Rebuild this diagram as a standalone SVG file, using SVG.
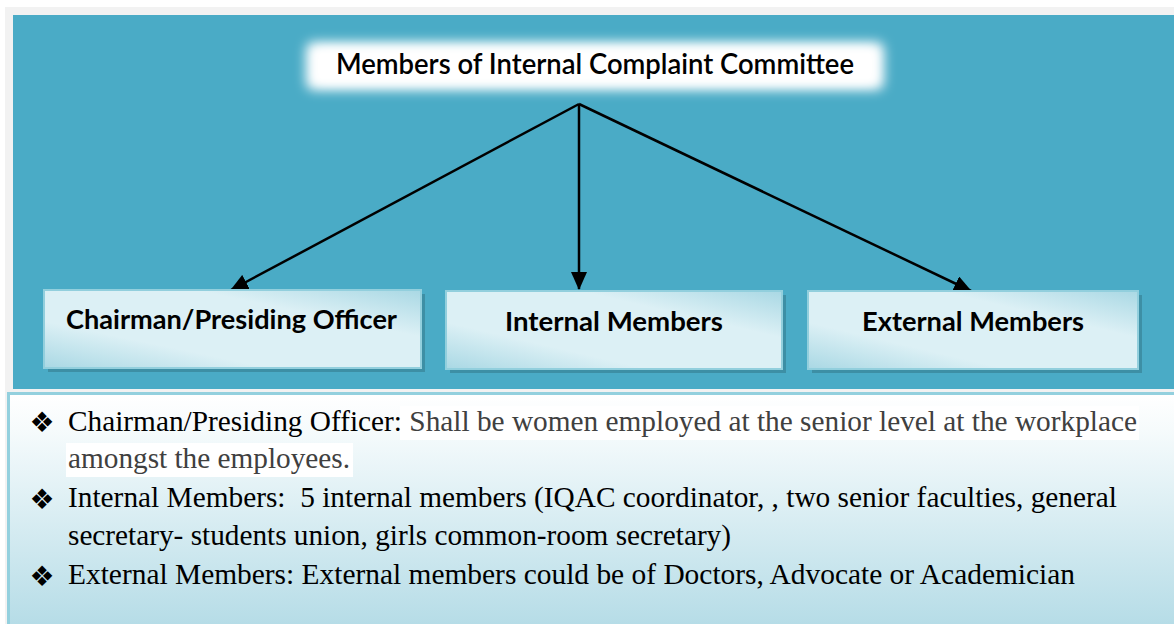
<svg xmlns="http://www.w3.org/2000/svg" width="1174" height="624" viewBox="0 0 1174 624">
  <defs>
    <style>
      .boxtxt { font-family: Lato, "Open Sans", sans-serif; font-weight: bold; font-size: 27px; fill: #000; }
      .body { font-family: "Liberation Serif", "Times New Roman", serif; font-size: 30px; fill: #000; }
      .gray { fill: #404040; }
      .bullet { font-family: "DejaVu Sans", sans-serif; font-size: 28px; fill: #000; }
      .edge { stroke: #000; stroke-width: 2.5; fill: none; marker-end: url(#arrow); }
      .box { stroke: #92cfdd; stroke-width: 2; fill: url(#boxGrad); }
      .shadow { fill: #3d8fa5; }
    </style>
    <linearGradient id="boxGrad" x1="0" y1="1" x2="1" y2="0">
      <stop offset="0" stop-color="#a9d8e4"/>
      <stop offset="0.3" stop-color="#dcf0f5"/>
      <stop offset="0.7" stop-color="#dcf0f5"/>
      <stop offset="1" stop-color="#a9d8e4"/>
    </linearGradient>
    <linearGradient id="lowGrad" x1="0" y1="0" x2="0" y2="1">
      <stop offset="0" stop-color="#ffffff"/>
      <stop offset="0.15" stop-color="#f6fbfc"/>
      <stop offset="1" stop-color="#b3dbe6"/>
    </linearGradient>
    <filter id="glow" x="-10%" y="-50%" width="120%" height="200%">
      <feGaussianBlur stdDeviation="6"/>
    </filter>
    <marker id="arrow" markerUnits="userSpaceOnUse" markerWidth="18" markerHeight="16" refX="17" refY="8" orient="auto">
      <path d="M0,0 L18,8 L0,16 Z" fill="#000"/>
    </marker>
  </defs>

  <rect x="0" y="0" width="1174" height="624" fill="#ffffff"/>
  <rect x="5" y="7" width="1169" height="617" fill="#f2f2f2"/>
  <rect x="13" y="15" width="1161" height="374" fill="#4aabc6"/>

  <g id="title">
    <rect x="306" y="42" width="578" height="48" rx="8" fill="#ffffff" filter="url(#glow)"/>
    <rect x="318" y="50" width="554" height="32" fill="#ffffff" filter="url(#glow)"/>
    <text x="595" y="74" text-anchor="middle" font-family="Lato, 'Open Sans', sans-serif" font-weight="600" font-size="28" fill="#000" textLength="518" lengthAdjust="spacingAndGlyphs">Members of Internal Complaint Committee</text>
  </g>

  <g id="connectors">
    <line class="edge" x1="579" y1="104" x2="231" y2="290"/>
    <line class="edge" x1="579" y1="104" x2="579" y2="289"/>
    <line class="edge" x1="579" y1="104" x2="971" y2="291"/>
  </g>

  <g id="chairman">
    <rect class="shadow" x="48" y="294" width="377" height="78"/>
    <rect class="box" x="44" y="290" width="377" height="78"/>
    <text class="boxtxt" x="231.5" y="329" text-anchor="middle" textLength="331" lengthAdjust="spacingAndGlyphs">Chairman/Presiding Officer</text>
  </g>

  <g id="internal">
    <rect class="shadow" x="450" y="295" width="336" height="78"/>
    <rect class="box" x="446" y="291" width="336" height="78"/>
    <text class="boxtxt" x="614" y="331" text-anchor="middle" textLength="218" lengthAdjust="spacingAndGlyphs">Internal Members</text>
  </g>

  <g id="external">
    <rect class="shadow" x="812" y="295" width="330" height="78"/>
    <rect class="box" x="808" y="291" width="330" height="78"/>
    <text class="boxtxt" x="973" y="331" text-anchor="middle" textLength="222" lengthAdjust="spacingAndGlyphs">External Members</text>
  </g>

  <g id="details">
    <rect x="8.5" y="393.5" width="1170" height="240" fill="url(#lowGrad)" stroke="#93d0de" stroke-width="3"/>
    <rect x="400" y="406" width="739" height="34" fill="#ffffff"/>
    <rect x="66" y="443" width="287" height="34" fill="#ffffff"/>

    <text class="bullet" x="42" y="432" text-anchor="middle">❖</text>
    <text class="body" x="68" y="431" textLength="1069" lengthAdjust="spacingAndGlyphs">Chairman/Presiding Officer: <tspan class="gray">Shall be women employed at the senior level at the workplace</tspan></text>
    <text class="body gray" x="68" y="468" textLength="282" lengthAdjust="spacingAndGlyphs">amongst the employees.</text>

    <text class="bullet" x="42" y="509" text-anchor="middle">❖</text>
    <text class="body" x="68" y="507" textLength="1049" lengthAdjust="spacingAndGlyphs" xml:space="preserve">Internal Members:  5 internal members (IQAC coordinator, , two senior faculties, general</text>
    <text class="body" x="68" y="545" textLength="663" lengthAdjust="spacingAndGlyphs">secretary- students union, girls common-room secretary)</text>

    <text class="bullet" x="42" y="586" text-anchor="middle">❖</text>
    <text class="body" x="68" y="584" textLength="1007" lengthAdjust="spacingAndGlyphs">External Members: External members could be of Doctors, Advocate or Academician</text>
  </g>
</svg>
